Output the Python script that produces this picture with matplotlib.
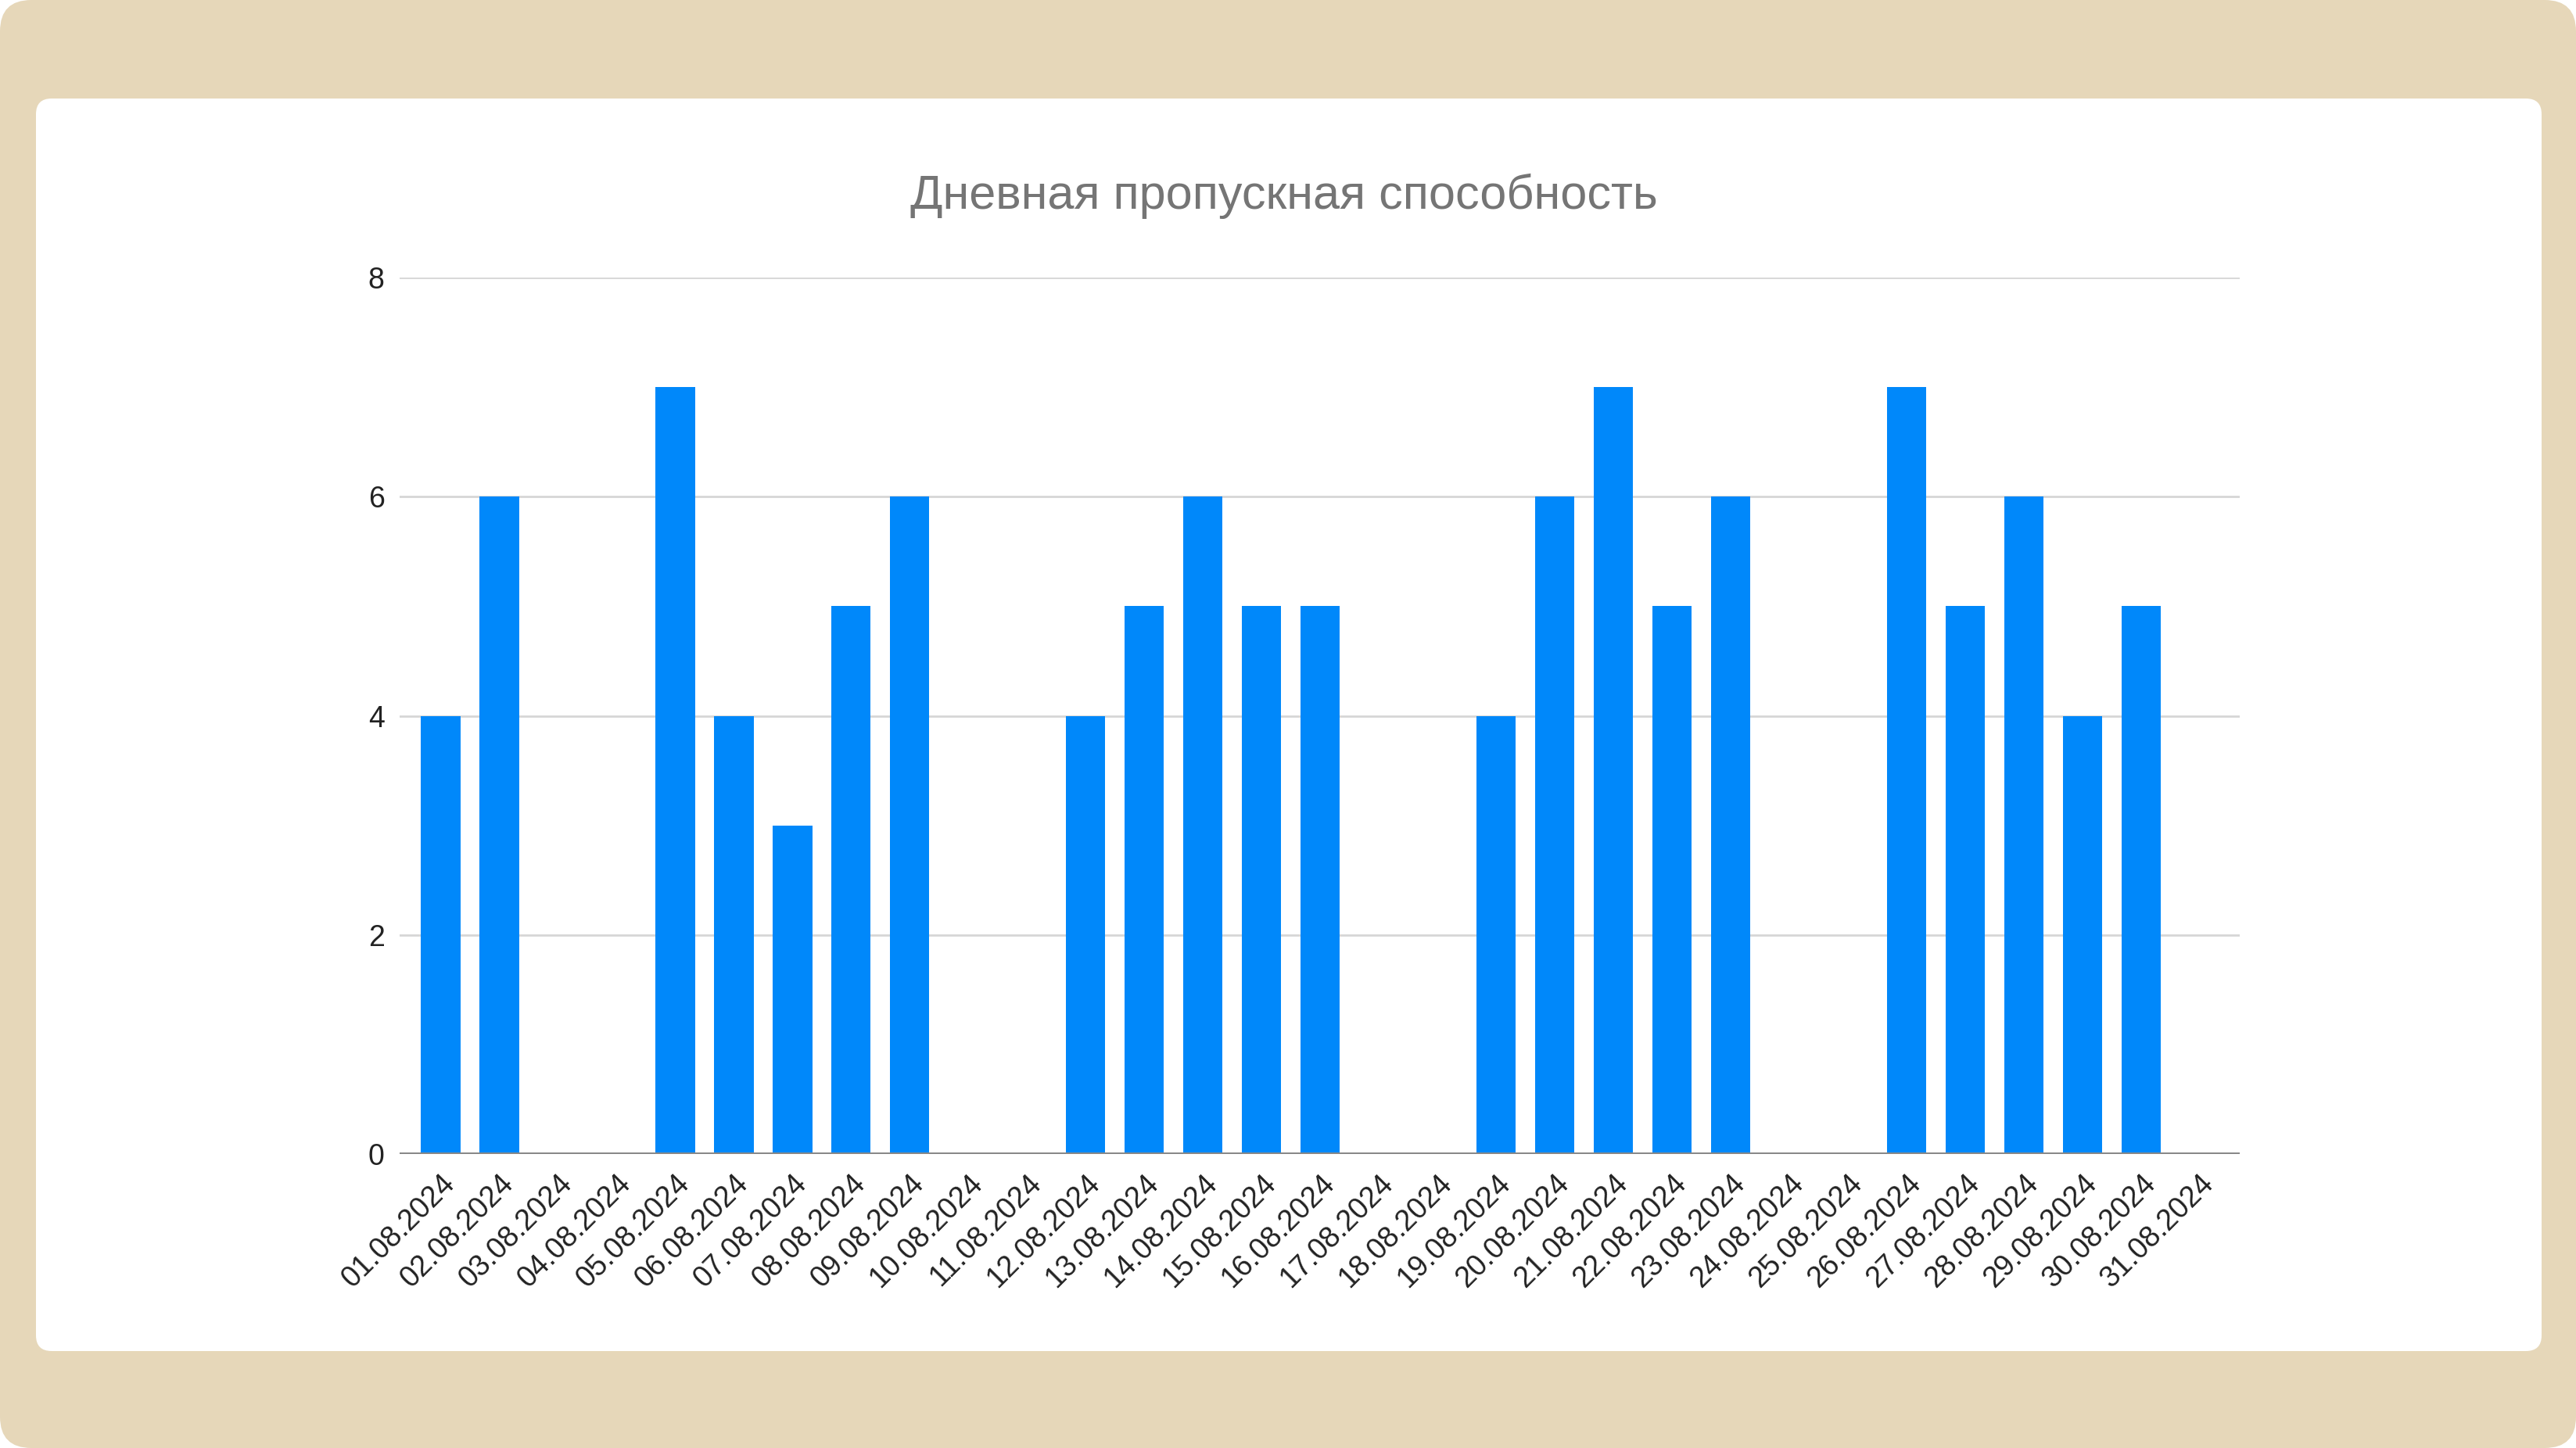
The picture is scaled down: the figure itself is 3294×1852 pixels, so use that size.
import matplotlib.pyplot as plt
from matplotlib.patches import FancyBboxPatch

# данные
dates = ["01.08.2024", "02.08.2024", "03.08.2024", "04.08.2024", "05.08.2024",
         "06.08.2024", "07.08.2024", "08.08.2024", "09.08.2024", "10.08.2024",
         "11.08.2024", "12.08.2024", "13.08.2024", "14.08.2024", "15.08.2024",
         "16.08.2024", "17.08.2024", "18.08.2024", "19.08.2024", "20.08.2024",
         "21.08.2024", "22.08.2024", "23.08.2024", "24.08.2024", "25.08.2024",
         "26.08.2024", "27.08.2024", "28.08.2024", "29.08.2024", "30.08.2024",
         "31.08.2024"]
throughput = [4, 6, 0, 0, 7, 4, 3, 5, 6, 0, 0, 4, 5, 6, 5, 5, 0, 0,
              4, 6, 7, 5, 6, 0, 0, 7, 5, 6, 4, 5, 0]
y_ticks = [0, 2, 4, 6, 8]
title = "Дневная пропускная способность"

W, H = 3294, 1852
fig = plt.figure(figsize=(W / 200, H / 200), dpi=200, facecolor="white")

# фон: бежевая рамка и белая карточка (в пикселях)
bg = fig.add_axes([0, 0, 1, 1], zorder=0)
bg.set_xlim(0, W)
bg.set_ylim(H, 0)
bg.axis("off")
bg.add_patch(FancyBboxPatch((0, 0), W, H, boxstyle="round,pad=0,rounding_size=40",
                            facecolor="#E6D7B9", edgecolor="none"))
bg.add_patch(FancyBboxPatch((46, 126), 3204, 1602, boxstyle="round,pad=0,rounding_size=20",
                            facecolor="white", edgecolor="none"))

ax = fig.add_axes([511 / W, 1 - 1476 / H, (2864 - 511) / W, (1476 - 355) / H], zorder=1)
ax.set_facecolor("none")
x = range(len(dates))
ax.bar(x, throughput, width=0.67, color="#0088FA", zorder=3)
ax.set_xlim(-0.7, len(dates) - 0.32)
ax.set_ylim(0, 8)
ax.set_yticks(y_ticks)
ax.grid(axis="y", color="#D6D6D6", linewidth=1.0, zorder=0)
ax.axhline(0, color="#888888", linewidth=1.8, zorder=4)
for s in ax.spines.values():
    s.set_visible(False)
ax.tick_params(length=0)
ax.tick_params(axis="y", pad=7, labelsize=13.5, labelcolor="#222222")
ax.set_xticks(list(x))
ax.set_xticklabels(dates, rotation=45, ha="right", rotation_mode="anchor",
                   fontsize=13.5, color="#222222")
ax.tick_params(axis="x", pad=7)
for lbl in ax.get_xticklabels() + ax.get_yticklabels():
    lbl.set_family(["Liberation Sans", "DejaVu Sans"])

fig.text(0.4985, 1 - 251 / H, title, ha="center", va="center", fontsize=22,
         color="#757575", family=["Liberation Sans", "DejaVu Sans"])

fig.savefig("out.png", dpi=200, facecolor="white")
